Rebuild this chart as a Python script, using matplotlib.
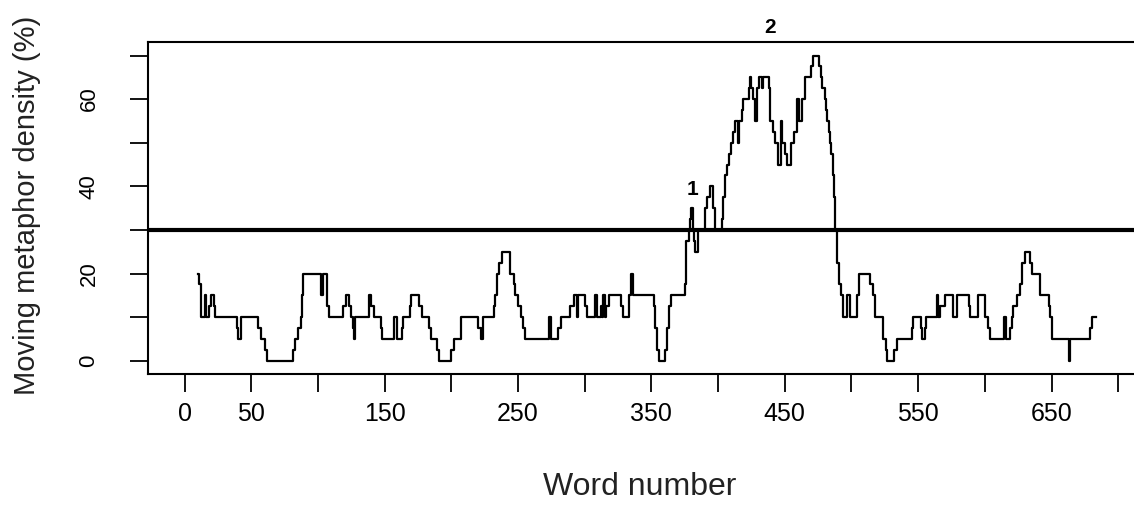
import matplotlib.pyplot as plt
import numpy as np

plt.rcParams['font.family'] = ['Liberation Sans', 'DejaVu Sans']

# word where each run starts, and the moving density (%) held until the next start
word_start = [10, 11, 12, 15, 16, 18, 20, 22, 23, 39, 40, 42, 55, 57, 60, 62,
              81, 83, 85, 87, 88, 89, 102, 104, 107, 108, 119, 121, 123, 125,
              126, 127, 128, 138, 140, 142, 147, 148, 157, 159, 163, 164, 169,
              170, 176, 178, 183, 185, 189, 191, 200, 202, 207, 220, 222, 224,
              232, 233, 234, 236, 238, 244, 247, 248, 250, 252, 254, 255, 273,
              275, 280, 282, 289, 292, 294, 295, 300, 302, 308, 309, 312, 313,
              314, 315, 316, 318, 327, 329, 333, 335, 336, 352, 353, 354, 356,
              360, 362, 363, 365, 375, 376, 378, 379, 380, 381, 382, 383, 385,
              390, 392, 394, 396, 398, 403, 404, 405, 407, 408, 410, 411, 413,
              415, 416, 418, 419, 423, 424, 425, 426, 428, 429, 431, 433, 434,
              438, 439, 441, 443, 445, 447, 448, 450, 452, 455, 457, 459, 461,
              463, 465, 470, 471, 476, 477, 478, 480, 481, 482, 483, 484, 485,
              486, 487, 488, 489, 491, 492, 494, 497, 499, 504, 506, 514, 516,
              518, 524, 526, 527, 532, 534, 545, 546, 552, 553, 555, 556, 564,
              565, 566, 570, 576, 579, 588, 589, 595, 600, 602, 604, 614, 616,
              619, 620, 621, 624, 626, 628, 630, 634, 635, 641, 648, 649, 650,
              663, 664, 679, 680]
density = [20, 17.5, 10, 15, 10, 12.5, 15, 12.5, 10, 7.5, 5, 10, 7.5, 5, 2.5, 0,
           2.5, 5, 7.5, 10, 15, 20, 15, 20, 12.5, 10, 12.5, 15, 12.5, 10,
           7.5, 5, 10, 15, 12.5, 10, 7.5, 5, 10, 5, 7.5, 10, 12.5,
           15, 12.5, 10, 7.5, 5, 2.5, 0, 2.5, 5, 10, 7.5, 5, 10,
           12.5, 15, 20, 22.5, 25, 20, 17.5, 15, 12.5, 10, 7.5, 5, 10,
           5, 7.5, 10, 12.5, 15, 10, 15, 12.5, 10, 15, 10, 12.5, 10,
           15, 10, 12.5, 15, 12.5, 10, 15, 20, 15, 12.5, 7.5, 2.5, 0,
           2.5, 7.5, 12.5, 15, 17.5, 27.5, 30, 32.5, 35, 30, 27.5, 25, 30,
           35, 37.5, 40, 35, 30, 32.5, 37.5, 42.5, 45, 47.5, 50, 52.5, 55,
           50, 55, 57.5, 60, 62.5, 65, 62.5, 60, 55, 62.5, 65, 62.5, 65,
           62.5, 55, 52.5, 50, 45, 55, 50, 47.5, 45, 50, 52.5, 60, 55,
           60, 65, 67.5, 70, 67.5, 65, 62.5, 60, 57.5, 55, 52.5, 50, 47.5,
           42.5, 37.5, 30, 22.5, 17.5, 15, 10, 15, 10, 15, 20, 17.5, 15,
           10, 5, 2.5, 0, 2.5, 5, 7.5, 10, 7.5, 5, 7.5, 10, 15,
           10, 12.5, 15, 10, 15, 12.5, 10, 15, 10, 7.5, 5, 10, 5,
           7.5, 10, 12.5, 15, 17.5, 22.5, 25, 22.5, 20, 15, 12.5, 10, 5,
           0, 5, 7.5, 10]
last_word = 683

threshold = 30
x_ticks = np.arange(0, 701, 50)
x_labels = ['0', '50', '', '150', '', '250', '', '350', '', '450', '', '550', '', '650', '']
y_ticks = np.arange(0, 71, 10)
y_labels = ['0', '', '20', '', '40', '', '60', '']

x = word_start + [last_word]
y = density + [density[-1]]

fig = plt.figure(figsize=(11.34, 5.16), dpi=100)
ax = fig.add_axes([148 / 1134, 142 / 516, 988 / 1134, 332 / 516])

ax.step(x, y, where='post', color='black', lw=1.6)
ax.axhline(threshold, color='black', lw=3)

ax.set_xlim(-27.4, 713.3)
ax.set_ylim(-3.05, 73.1)

ax.set_xticks(x_ticks)
ax.set_xticklabels(x_labels)
ax.set_yticks(y_ticks)
ax.set_yticklabels(y_labels, rotation=90, va='center')
ax.tick_params(axis='both', length=13, width=1.3, color='black')
ax.tick_params(axis='y', pad=22, labelsize=16)
ax.tick_params(axis='x', pad=7, labelsize=18)
for s in ax.spines.values():
    s.set_linewidth(1.5)

ax.text(380.8, 39.2, '1', fontsize=15, fontweight='bold', ha='center', va='center')
ax.text(438.9, 76.5, '2', fontsize=15, fontweight='bold', ha='center', va='center', clip_on=False)

fig.text(640 / 1134, 1 - 487 / 516, 'Word number', fontsize=23, ha='center', va='center', color='#222222')
fig.text(27 / 1134, 1 - 205 / 516, 'Moving metaphor density (%)', fontsize=21, rotation=90,
         ha='center', va='center', color='#222222')

fig.savefig('out.png', dpi=100)
